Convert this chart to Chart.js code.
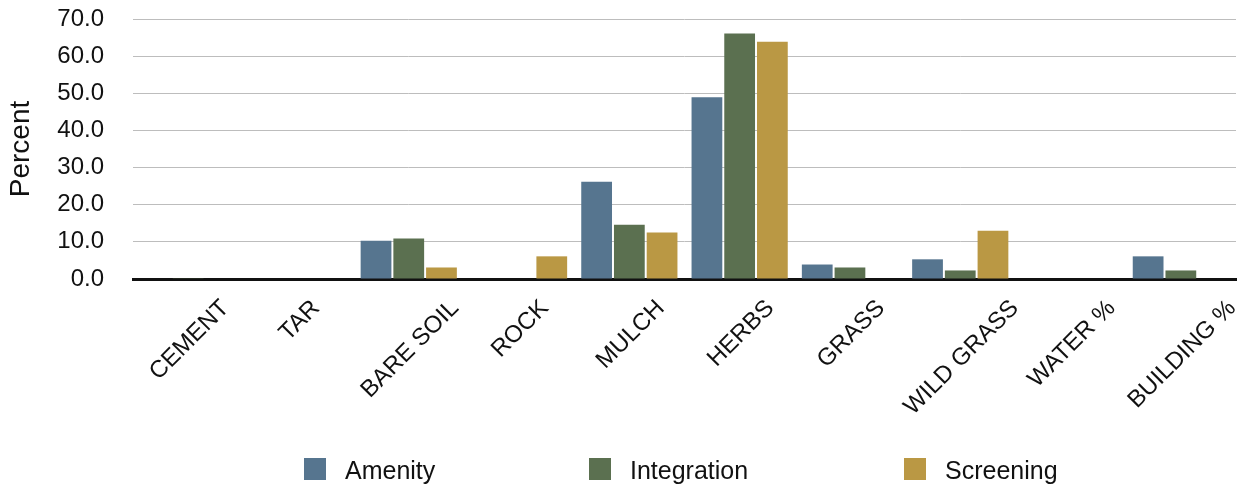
<!DOCTYPE html>
<html>
<head>
<meta charset="utf-8">
<script src="https://cdn.jsdelivr.net/npm/chart.js@4/dist/chart.umd.min.js"></script>
<style>
  html, body { margin: 0; padding: 0; background: #ffffff; }
  #wrap { position: relative; width: 1245px; height: 485px; }
  #chart { position: absolute; left: 0; top: 0; }
  .legend-item { position: absolute; top: 458px; height: 22px; display: flex; align-items: center;
                 font-family: "Liberation Sans", Arial, sans-serif; font-size: 25px; color: #111; }
  .legend-item .swatch { width: 22px; height: 22px; margin-right: 19px; flex: none; }
  .legend-item .label { line-height: 22px; position: relative; top: 1px; }
</style>
</head>
<body>
<div id="wrap">
  <canvas id="chart" width="1245" height="485"></canvas>
</div>
<script>
// Ground-cover categories along the x axis
const categories = ['CEMENT', 'TAR', 'BARE SOIL', 'ROCK', 'MULCH', 'HERBS', 'GRASS', 'WILD GRASS', 'WATER %', 'BUILDING %'];

// Percent cover per category for each planting function
const amenity     = [0.0, 0.0, 10.3, 0.0, 26.2, 48.9, 3.9, 5.3, 0.0, 6.1];
const integration = [0.2, 0.0, 10.9, 0.0, 14.6, 66.1, 3.1, 2.3, 0.0, 2.3];
const screening   = [0.0, 0.0,  3.1, 6.1, 12.5, 63.9, 0.0, 13.0, 0.0, 0.0];

const seriesNames = ['Amenity', 'Integration', 'Screening'];
const seriesColors = ['#56758f', '#5b7050', '#ba9844'];

// y axis range and tick spacing
const yMin = 0;
const yMax = 70;
const yStep = 10;

const FONT = '"Liberation Sans", Arial, sans-serif';

// Rotated category labels, centred under each category with a common top edge
const slantedLabels = {
  id: 'slantedLabels',
  afterDraw(chart) {
    const ctx = chart.ctx;
    const xScale = chart.scales.x;
    const size = 24;
    const capH = size * 0.716;
    const top = 297;
    const c = Math.SQRT1_2;
    ctx.save();
    ctx.font = size + 'px ' + FONT;
    ctx.fillStyle = '#111111';
    ctx.textAlign = 'center';
    ctx.textBaseline = 'alphabetic';
    categories.forEach((label, i) => {
      const w = ctx.measureText(label).width;
      const extent = (w + capH) * c;
      const cx = xScale.getPixelForTick(i);
      const cy = top + extent / 2;
      ctx.save();
      ctx.translate(cx, cy);
      ctx.rotate(-Math.PI / 4);
      ctx.fillText(label, 0, capH / 2);
      ctx.restore();
    });
    ctx.restore();
  }
};

const datasets = [amenity, integration, screening].map((values, k) => ({
  label: seriesNames[k],
  data: values,
  backgroundColor: seriesColors[k],
  borderWidth: 0,
  categoryPercentage: 0.89,
  barPercentage: 0.94
}));

new Chart(document.getElementById('chart'), {
  type: 'bar',
  data: { labels: categories, datasets },
  options: {
    responsive: false,
    animation: false,
    devicePixelRatio: 1,
    layout: { padding: { top: 19, right: 9, bottom: 206, left: 0 } },
    plugins: {
      legend: { display: false },
      tooltip: { enabled: false }
    },
    scales: {
      x: {
        grid: { display: false },
        border: { display: true, color: '#111111', width: 3 },
        ticks: { display: false },
        afterFit(scale) {
          scale.height = 0;
          scale.paddingLeft = 0;
          scale.paddingRight = 0;
        }
      },
      y: {
        min: yMin,
        max: yMax,
        ticks: {
          stepSize: yStep,
          padding: 29,
          color: '#111111',
          font: { family: FONT, size: 24 },
          callback: v => Number(v).toFixed(1)
        },
        grid: { color: '#bdbdbd', lineWidth: 1, drawTicks: false },
        border: { display: false },
        title: {
          display: true,
          text: 'Percent',
          color: '#111111',
          font: { family: FONT, size: 28 },
          padding: { top: 4, bottom: 0 }
        },
        afterFit(scale) {
          scale.width = 133;
          scale.paddingTop = 0;
          scale.paddingBottom = 0;
        }
      }
    }
  },
  plugins: [slantedLabels]
});

// Legend row beneath the chart
const legendLeft = [304, 589, 904];
const wrap = document.getElementById('wrap');
seriesNames.forEach((name, k) => {
  const item = document.createElement('div');
  item.className = 'legend-item';
  item.style.left = legendLeft[k] + 'px';
  const sw = document.createElement('span');
  sw.className = 'swatch';
  sw.style.background = seriesColors[k];
  const tx = document.createElement('span');
  tx.className = 'label';
  tx.textContent = name;
  item.appendChild(sw);
  item.appendChild(tx);
  wrap.appendChild(item);
});
</script>
</body>
</html>
